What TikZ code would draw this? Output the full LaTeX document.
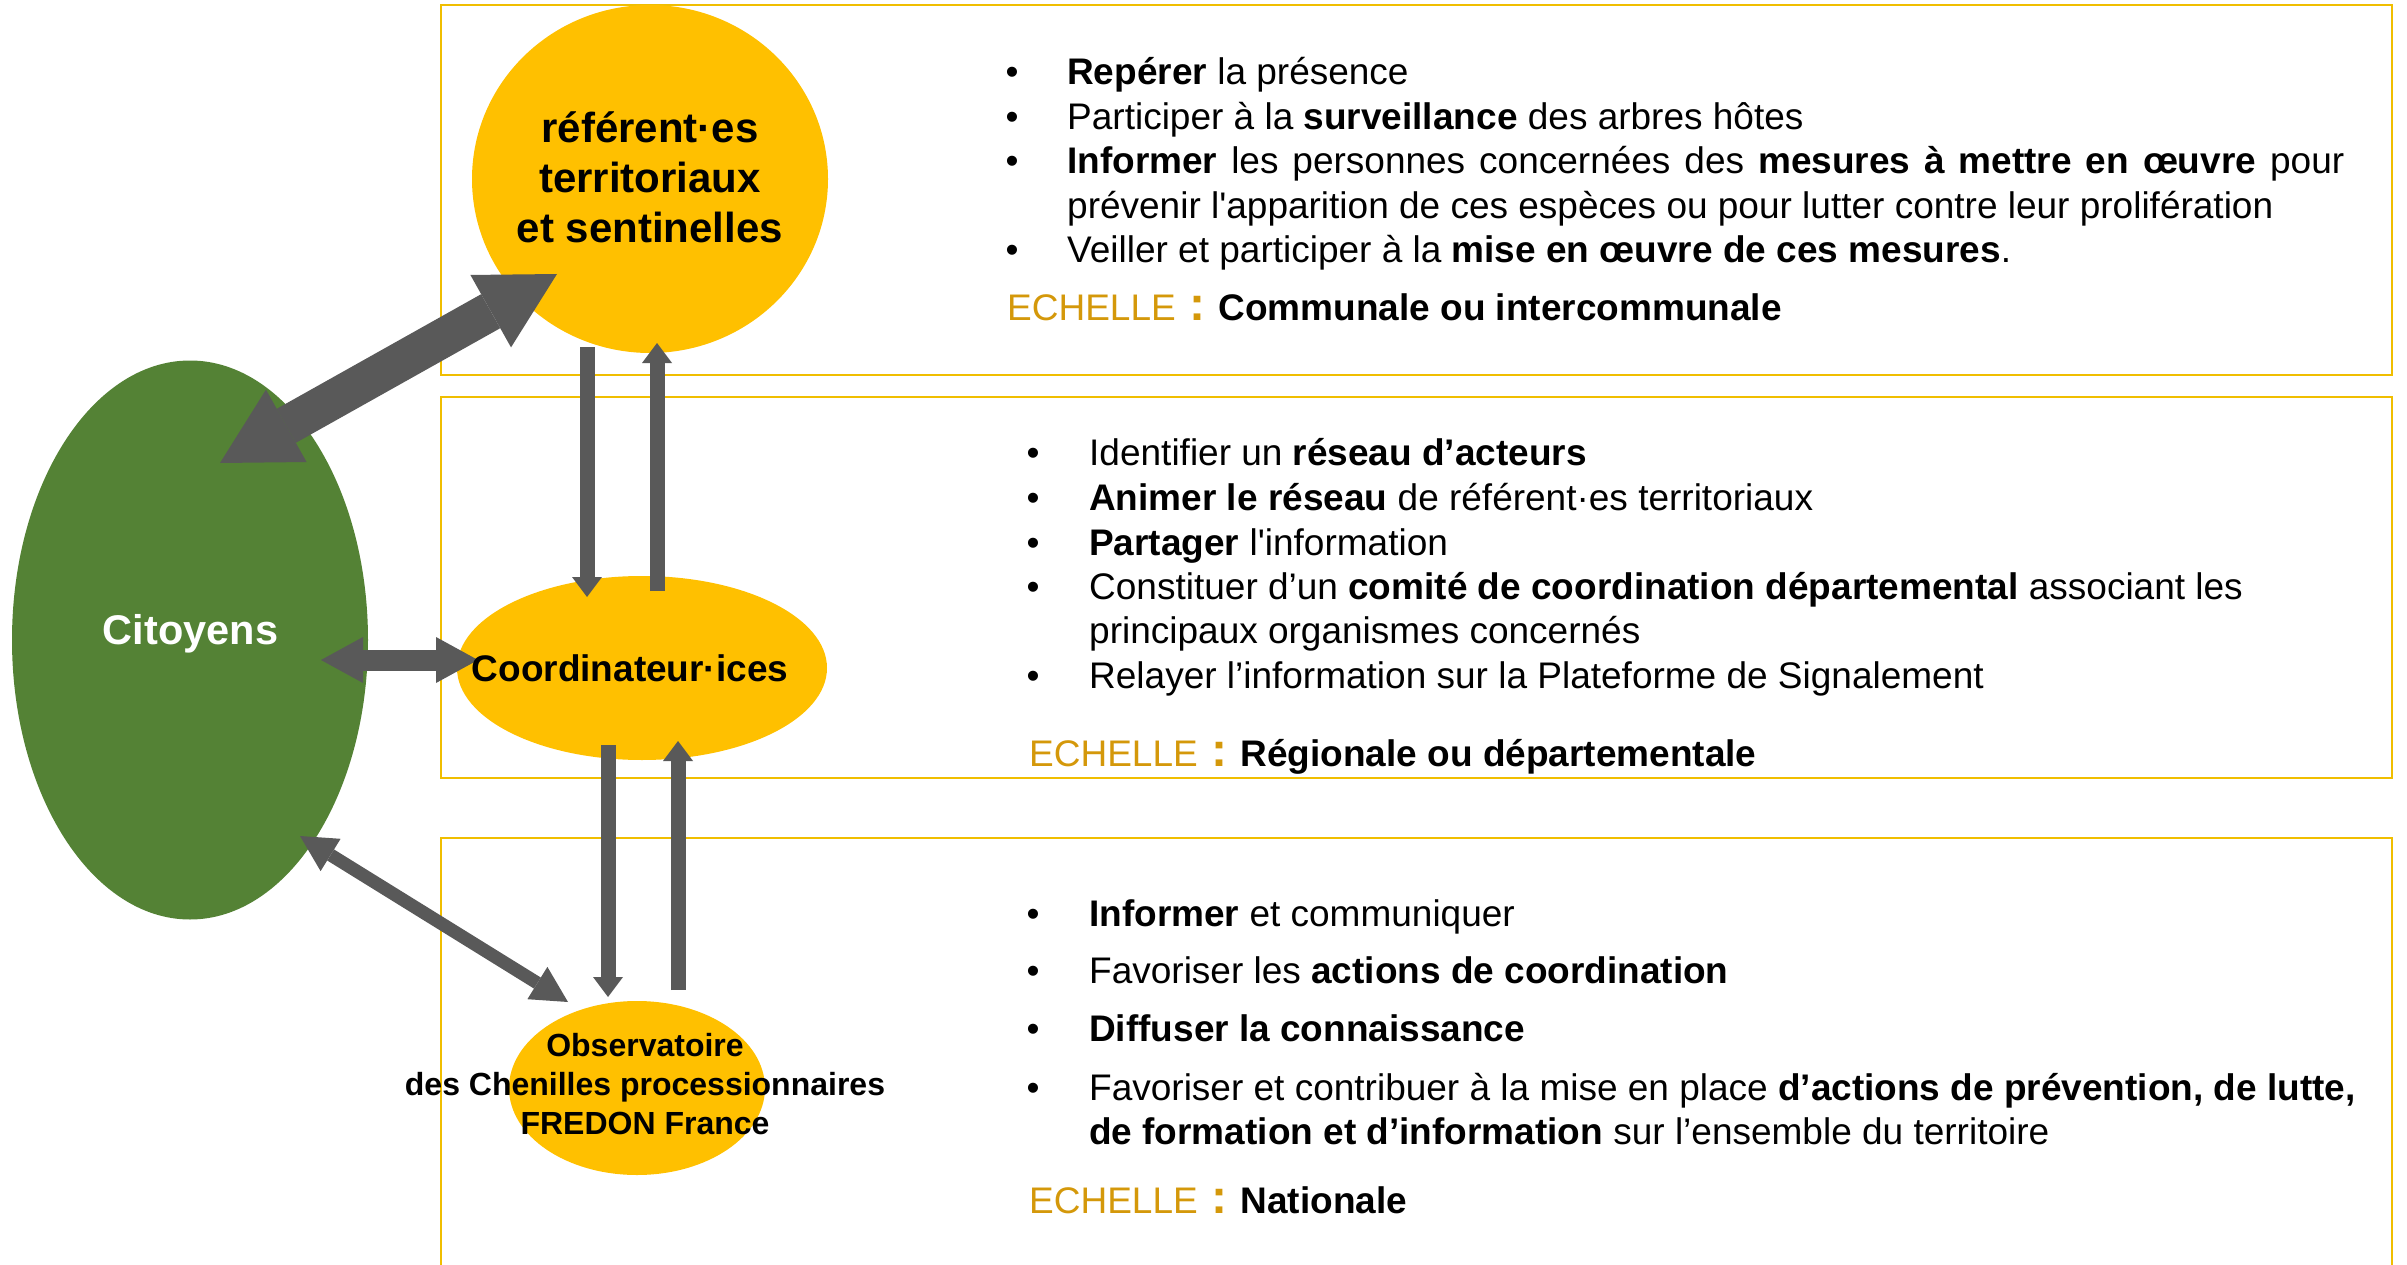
\documentclass[tikz,border=0pt]{standalone}
\usepackage{fontspec}
\setmainfont{Liberation Sans}
\usetikzlibrary{arrows.meta,shapes.geometric}
\definecolor{yel}{RGB}{255,192,0}
\definecolor{grn}{RGB}{84,130,53}
\definecolor{gry}{RGB}{89,89,89}
\definecolor{boxc}{RGB}{240,190,0}
\definecolor{gold}{RGB}{212,152,10}
\newcommand{\echelle}{{\color{gold}ECHELLE{\fontsize{48}{48}\selectfont\bfseries\ :\ }}}
\begin{document}
\begin{tikzpicture}[x=1pt,y=-1pt,
  blob/.style={ellipse, fill=#1, draw=none, inner sep=0pt},
  panel/.style={draw=boxc, line width=2.5pt},
  ltxt/.style={anchor=base west, inner sep=0pt, font=\fontsize{37}{44}\selectfont},
  bul/.style={anchor=base, inner sep=0pt, font=\fontsize{37}{44}\selectfont},
  echl/.style={anchor=base west, inner sep=0pt, font=\fontsize{37}{44}\selectfont},
  reftxt/.style={anchor=base, inner sep=0pt, font=\fontsize{42}{50}\selectfont\bfseries},
  cittxt/.style={anchor=base, inner sep=0pt, text=white, font=\fontsize{41.5}{50}\selectfont\bfseries},
  coortxt/.style={anchor=base, inner sep=0pt, font=\fontsize{37}{44}\selectfont\bfseries},
  obstxt/.style={anchor=base, inner sep=0pt, font=\fontsize{32}{39}\selectfont\bfseries},
  twoway/.style args={#1/#2/#3}{draw=gry, line width=#1pt,
     arrows={Triangle[width=#2pt,length=#3pt,line width=0pt]-Triangle[width=#2pt,length=#3pt,line width=0pt]}},
  oneway/.style={draw=gry, line width=15pt,
     arrows={-Triangle[width=30pt,length=20pt,line width=0pt]}}
]
\useasboundingbox (0,0) rectangle (2407,1265);
\clip (0,0) rectangle (2407,1265);

% panels
\draw[panel] (441,5) rectangle (2392,375);
\draw[panel] (441,397) rectangle (2392,778);
\draw[panel] (441,838) rectangle (2392,1320);

% ellipses
\node[blob=yel, minimum width=356pt, minimum height=348pt] (ref) at (650,179) {};
\node[blob=grn, minimum width=356pt, minimum height=559pt] (cit) at (190,640) {};
\node[blob=yel, minimum width=370pt, minimum height=184pt] (coor) at (642,668) {};
\node[blob=yel, minimum width=256pt, minimum height=174pt] (obs) at (637,1088) {};

% connector end points
\coordinate (citA) at (220,463);
\coordinate (refA) at (557,274);
\coordinate (citB) at (321,660);
\coordinate (coorB) at (478,660);
\coordinate (citC) at (300,836);
\coordinate (obsC) at (568,1002);
\coordinate (refD) at (587,347);
\coordinate (coorD) at (587,597);
\coordinate (coorU) at (657,591);
\coordinate (refU) at (657,343);
\coordinate (coorE) at (608,745);
\coordinate (obsE) at (608,997);
\coordinate (obsF) at (678,990);
\coordinate (coorF) at (678,741);

% connectors
\draw[twoway=39/83/76] (citA) -- (refA);
\draw[twoway=21/46/42] (citB) -- (coorB);
\draw[twoway=13/38/36] (citC) -- (obsC);
\draw[oneway] (refD) -- (coorD);
\draw[oneway] (coorU) -- (refU);
\draw[oneway] (coorE) -- (obsE);
\draw[oneway] (obsF) -- (coorF);

% ellipse texts
\node[reftxt] (ref1) at (650,143) {référent·es};
\node[reftxt] (ref2) at (650,193) {territoriaux};
\node[reftxt] (ref3) at (650,243) {et sentinelles};
\node[cittxt] (citt) at (190.5,644) {Citoyens};
\node[coortxt] (coort) at (630,681) {Coordinateur·ices};
\node[obstxt] (obs1) at (645,1056) {Observatoire};
\node[obstxt] (obs2) at (645,1095) {des Chenilles processionnaires};
\node[obstxt] (obs3) at (645,1134) {FREDON France};

% panel 1 text
\node[bul] (p1b1) at (1012,84.5) {•};
\node[ltxt] (p1t1) at (1067,84.5) {\textbf{Repérer} la présence};
\node[bul] (p1b2) at (1012,129.5) {•};
\node[ltxt] (p1t2) at (1067,129.5) {Participer à la \textbf{surveillance} des arbres hôtes};
\node[bul] (p1b3) at (1012,174) {•};
\node[ltxt] (p1t3) at (1067,174) {\makebox[1277pt][s]{\textbf{Informer} les personnes concernées des \textbf{mesures à mettre en œuvre} pour}};
\node[ltxt] (p1t4) at (1067,218.5) {prévenir l\textquotesingle apparition de ces espèces ou pour lutter contre leur prolifération};
\node[bul] (p1b5) at (1012,263) {•};
\node[ltxt] (p1t5) at (1067,263) {Veiller et participer à la \textbf{mise en œuvre de ces mesures}.};
\node[echl] (p1e) at (1007,320) {\echelle\textbf{Communale ou intercommunale}};

% panel 2 text
\node[bul] (p2b1) at (1033,465) {•};
\node[ltxt] (p2t1) at (1089,465) {Identifier un \textbf{réseau d’acteurs}};
\node[bul] (p2b2) at (1033,510) {•};
\node[ltxt] (p2t2) at (1089,510) {\textbf{Animer le réseau} de référent·es territoriaux};
\node[bul] (p2b3) at (1033,555) {•};
\node[ltxt] (p2t3) at (1089,555) {\textbf{Partager} l\textquotesingle information};
\node[bul] (p2b4) at (1033,599) {•};
\node[ltxt] (p2t4) at (1089,599) {Constituer d’un \textbf{comité de coordination départemental} associant les};
\node[ltxt] (p2t5) at (1089,643) {principaux organismes concernés};
\node[bul] (p2b6) at (1033,688) {•};
\node[ltxt] (p2t6) at (1089,688) {Relayer l’information sur la Plateforme de Signalement};
\node[echl] (p2e) at (1029,766) {\echelle\textbf{Régionale ou départementale}};

% panel 3 text
\node[bul] (p3b1) at (1033,926.5) {•};
\node[ltxt] (p3t1) at (1089,926.5) {\textbf{Informer} et communiquer};
\node[bul] (p3b2) at (1033,983.5) {•};
\node[ltxt] (p3t2) at (1089,983.5) {Favoriser les \textbf{actions de coordination}};
\node[bul] (p3b3) at (1033,1041.5) {•};
\node[ltxt] (p3t3) at (1089,1041.5) {\textbf{Diffuser la connaissance}};
\node[bul] (p3b4) at (1033,1100.5) {•};
\node[ltxt] (p3t4) at (1089,1100.5) {Favoriser et contribuer à la mise en place \textbf{d’actions de prévention, de lutte,}};
\node[ltxt] (p3t5) at (1089,1144.5) {\textbf{de formation et d’information} sur l’ensemble du territoire};
\node[echl] (p3e) at (1029,1213) {\echelle\textbf{Nationale}};
\end{tikzpicture}
\end{document}
